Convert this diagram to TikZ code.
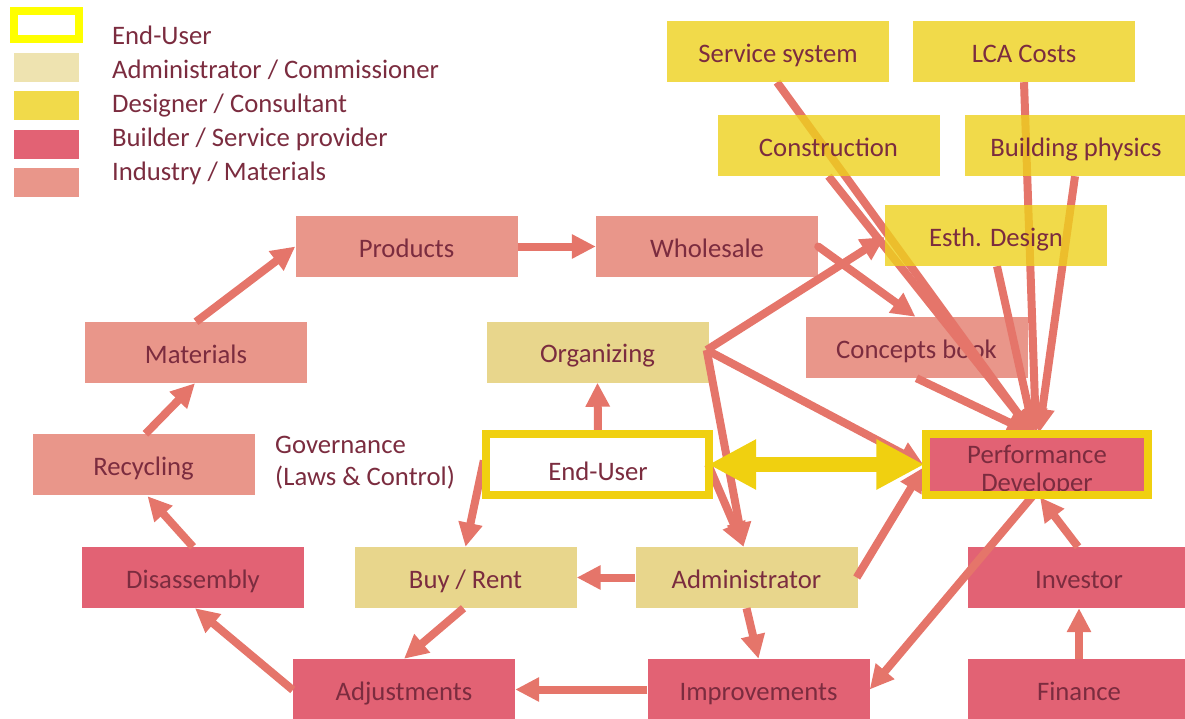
\documentclass[tikz,border=0pt]{standalone}
\usepackage{fontspec}
\setmainfont{Carlito}
\usetikzlibrary{arrows.meta,calc}
\definecolor{industry}{HTML}{E9968A}
\definecolor{builder}{HTML}{E26274}
\definecolor{admin}{HTML}{E8D68C}
\definecolor{adminlg}{HTML}{EEE3B0}
\definecolor{designer}{HTML}{EED11D}
\definecolor{frameY}{HTML}{F0D010}
\definecolor{legY}{HTML}{FFFF00}
\definecolor{arrc}{HTML}{E5756A}
\definecolor{txt}{HTML}{7B2C3F}
\pgfdeclarelayer{top}
\pgfsetlayers{main,top}
\newcommand{\diafont}{\fontsize{26.7}{28}\selectfont}
\begin{document}
\begin{tikzpicture}[x=1pt,y=-1pt,
  box/.style={rectangle, inner sep=0pt, minimum width=222pt, minimum height=61pt,
    text height=21pt, text depth=0pt, font=\diafont, text=txt},
  ind/.style={box, fill=industry},
  bld/.style={box, fill=builder},
  adm/.style={box, fill=admin},
  des/.style={box, fill=designer, fill opacity=0.8, text opacity=1},
  arr/.style={draw=arrc, line width=8pt, -{Triangle[length=24pt,width=23pt]}},
  bigarr/.style={draw=frameY, line width=15pt, {Triangle[length=48pt,width=47pt]}-{Triangle[length=48pt,width=47pt]}},
  frame/.style={draw=frameY, line width=8pt},
  lbl/.style={font=\diafont, text=txt, inner sep=0pt, anchor=base west},
  legbox/.style={rectangle, inner sep=0pt, minimum width=65pt, minimum height=29pt}
]
\useasboundingbox (0,0) rectangle (1185,718);

% ---------- legend ----------
\node[legbox, draw=legY, line width=8pt, fill=white, minimum height=28pt] (lg1) at (46.5,25) {};
\node[legbox, fill=adminlg] (lg2) at (46.5,67) {};
\node[legbox, fill=designer, fill opacity=0.8] (lg3) at (46.5,105.5) {};
\node[legbox, fill=builder] (lg4) at (46.5,144.5) {};
\node[legbox, fill=industry] (lg5) at (46.5,182.5) {};
\node[lbl] (lt1) at (112,44) {End-User};
\node[lbl] (lt2) at (112,78) {Administrator / Commissioner};
\node[lbl] (lt3) at (112,112) {Designer / Consultant};
\node[lbl] (lt4) at (112,146) {Builder / Service provider};
\node[lbl] (lt5) at (112,180) {Industry / Materials};

\node[lbl] (gov1) at (275,453) {Governance};
\node[lbl] (gov2) at (275,485) {(Laws \& Control)};

% ---------- boxes under the arrows ----------
\node[ind] (prod) at (406.5,246.5) {Products};
\node[ind] (whole) at (707,246.5) {Wholesale};
\node[ind] (mat) at (196,352.5) {Materials};
\node[ind] (recyc) at (143.5,464.5) {Recycling};
\node[ind] (concepts) at (916.5,347.5) {Concepts book};

\node[bld] (disas) at (193,577.5) {Disassembly};
\node[bld] (adj) at (404,689.5) {Adjustments};
\node[bld] (impr) at (758.5,689.5) {Improvements};
\node[bld] (invest) at (1079,577.5) {Investor};
\node[bld] (fin) at (1079,689.5) {Finance};

\node[adm] (org) at (597.5,352) {Organizing};
\node[adm] (buy) at (465.5,577.5) {Buy / Rent};
\node[adm] (admin) at (746.5,577.5) {Administrator};

\node[box, fill=white, minimum width=214pt, minimum height=53pt, text height=31pt] (enduser) at (598,464.5) {End-User};
\node[bld, minimum width=215pt, minimum height=53pt] (perf) at (1037,464.5) {};

% ---------- designer boxes (over the arrows) ----------
\begin{pgfonlayer}{top}
\node[des] (service) at (778,51.5) {Service system};
\node[des] (lca) at (1024,51.5) {LCA Costs};
\node[des] (constr) at (828.5,145.5) {Construction};
\node[des] (bphys) at (1076,145.5) {Building physics};
\node[des] (esth) at (996,235.5) {Esth. Design};
\node[lbl, anchor=base] (perfa) at (1037,463) {Performance};
\node[lbl, anchor=base] (perfb) at (1037,491) {Developer};
\draw[frame] ($(perf.north west)+(-3.5,-3.5)$) rectangle ($(perf.south east)+(3.5,3.5)$);
\draw[frame] ($(enduser.north west)+(-4.5,-4)$) rectangle ($(enduser.south east)+(3.5,3.5)$);
\draw[bigarr] ($(enduser.east)+(3,0)$) -- ($(perf.west)+(-5,0)$);
\end{pgfonlayer}

% ---------- arrows ----------
\draw[arr] ($(recyc.north)+(2,0)$) -- ($(mat.south)+(-1,0)$);
\draw[arr] (mat.north) -- (prod.west);
\draw[arr] (prod.east) -- (whole.west);
\draw[arr] (disas.north) -- ($(recyc.south)+(4,1)$);
\draw[arr] ($(adj.west)+(0,0.5)$) -- ($(disas.south)+(2,0)$);
\draw[arr] ($(buy.south)+(-2,0)$) -- (adj.north);
\draw[arr] (impr.west) -- (adj.east);
\draw[arr] (admin.west) -- (buy.east);
\draw[arr] (admin.south) -- (impr.north);
\draw[arr] ($(enduser.west)+(-7,-4)$) -- (buy.north);
\draw[arr] ($(enduser.north)+(0,-4)$) -- (org.south);
\draw[arr] ($(org.east)+(-2,-2)$) -- ($(esth.west)+(0,1.5)$);
\draw[arr] ($(org.east)+(-2,-2)$) -- ($(perf.west)+(-6,0)$);
\draw[arr] ($(org.east)+(-2,-2)$) -- ($(admin.north)+(-3,0)$);
\draw[arr] ($(enduser.east)+(3,0)$) -- ($(admin.north)+(-3,0)$);
\draw[arr] ($(admin.east)+(-1,0)$) -- ($(perf.west)+(-6,3)$);
\draw[arr] ($(perf.south)+(-2,2)$) -- (impr.east);
\draw[arr] ($(invest.north)+(-1,0)$) -- ($(perf.south)+(3,6)$);
\draw[arr] (fin.north) -- (invest.south);
\draw[arr, line cap=round] (whole.east) -- ($(concepts.north)+(-1,0)$);
\draw[arr] (concepts.south) -- ($(perf.north)+(-6,-5)$);
\draw[arr] ($(service.south)+(-1,0)$) -- ($(perf.north)+(-5,-5)$);
\draw[arr] (constr.south) -- ($(perf.north)+(-4,-5)$);
\draw[arr] (lca.south) -- ($(perf.north)+(-1,-5)$);
\draw[arr] ($(bphys.south)+(-1,0)$) -- ($(perf.north)+(2,-5)$);
\draw[arr] ($(esth.south)+(1,0)$) -- ($(perf.north)+(-3,-5)$);
\end{tikzpicture}
\end{document}
